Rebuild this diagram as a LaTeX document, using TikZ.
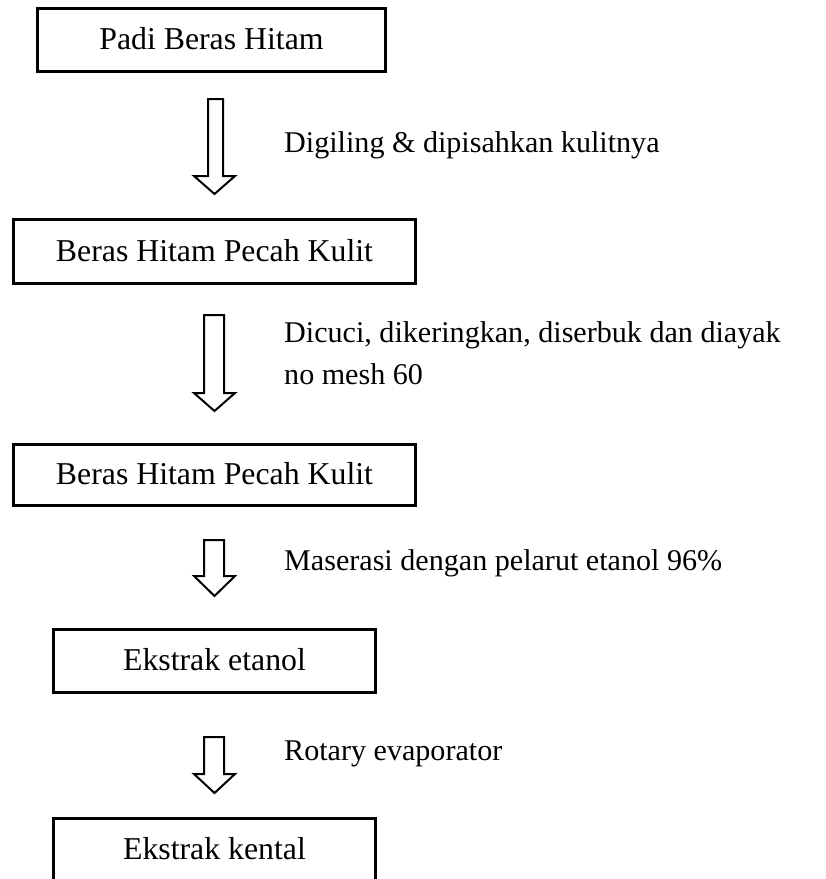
\documentclass[tikz,border=0pt]{standalone}
\usepackage{fontspec}
\setmainfont{Liberation Serif}
\begin{document}
\begin{tikzpicture}[x=1pt,y=-1pt,
  stepbox/.style={draw=black, line width=3pt, inner sep=0pt,
    text height=19.5pt, text depth=0pt, font=\fontsize{31.8}{42}\selectfont},
  hollow/.style={draw=black, line width=2pt, line join=miter, fill=white},
  label/.style={anchor=base west, inner sep=0pt, font=\fontsize{30.1}{42}\selectfont}]
\useasboundingbox (0,0) rectangle (826,879);
\clip (0,0) rectangle (826,879);
\fill[white] (0,0) rectangle (826,879);

% process boxes
\node[stepbox, minimum width=348pt, minimum height=63pt] (padi) at (211.5,40) {Padi Beras Hitam};
\node[stepbox, minimum width=402pt, minimum height=64pt] (pecah) at (214.5,251.5) {Beras Hitam Pecah Kulit};
\node[stepbox, minimum width=402pt, minimum height=61pt] (serbuk) at (214.5,475) {Beras Hitam Pecah Kulit};
\node[stepbox, minimum width=322pt, minimum height=63pt] (etanol) at (214.5,661) {Ekstrak etanol};
\node[stepbox, minimum width=322pt, minimum height=62pt] (kental) at (214.5,849.5) {Ekstrak kental};

% hollow block arrows between the boxes
\draw[hollow] (208,99) -- (223,99) -- (223,176) -- (235,176) -- (214.5,194)
  -- (194,176) -- (208,176) -- cycle;
\draw[hollow] (204,315) -- (224,315) -- (224,393) -- (235,393) -- (214.5,411)
  -- (194,393) -- (204,393) -- cycle;
\draw[hollow] (204,540) -- (224,540) -- (224,576) -- (235,576) -- (214.5,596)
  -- (194,576) -- (204,576) -- cycle;
\draw[hollow] (204,737) -- (224,737) -- (224,774) -- (235,774) -- (214.5,793)
  -- (194,774) -- (204,774) -- cycle;

% step descriptions
\node[label] (l1) at (284,152) {Digiling \& dipisahkan kulitnya};
\node[label] (l2a) at (284,342) {Dicuci, dikeringkan, diserbuk dan diayak};
\node[label] (l2b) at (284,384) {no mesh 60};
\node[label] (l3) at (284,570) {Maserasi dengan pelarut etanol 96\%};
\node[label] (l4) at (284,760) {Rotary evaporator};
\end{tikzpicture}
\end{document}
